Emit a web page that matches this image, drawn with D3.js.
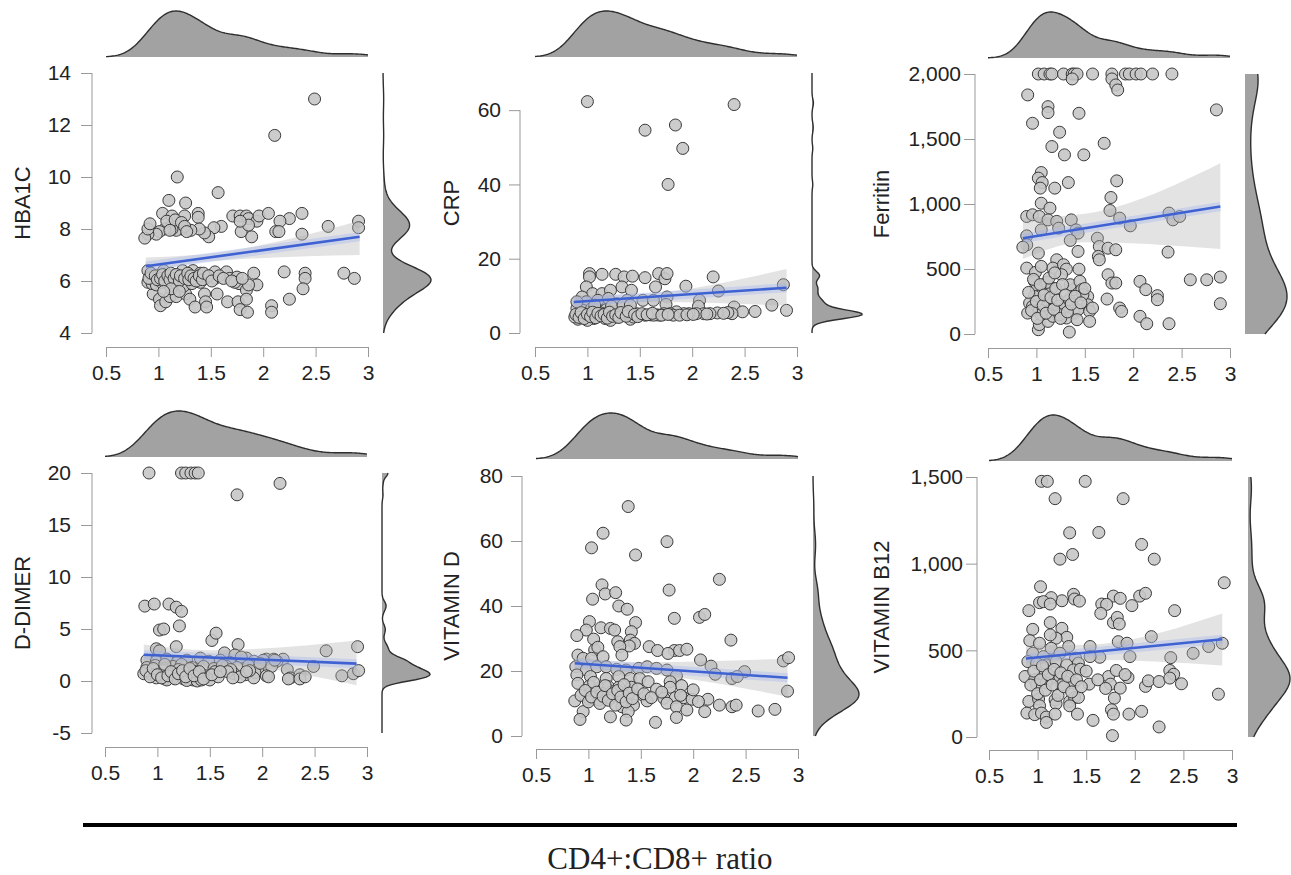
<!DOCTYPE html>
<html>
<head>
<meta charset="utf-8">
<script src="https://cdn.jsdelivr.net/npm/d3@7"></script>
<style>
  body { margin: 0; background: #fff; }
  svg text { font-family: "Liberation Sans", Arial, sans-serif; fill: #222; }
</style>
</head>
<body>
<svg id="chart" width="1291" height="875"></svg>
<script>
// ---- data ----
var xTicks = [0.5, 1, 1.5, 2, 2.5, 3];
var xDomain = [0.5, 3];
var yTitles = ['HBA1C', 'CRP', 'Ferritin', 'D-DIMER', 'VITAMIN D', 'VITAMIN B12'];
var yDomains = [[4, 14], [0, 70], [0, 2000], [-5, 20], [0, 80], [0, 1500]];
var yTicksHba1c = [4, 6, 8, 10, 12, 14];
var yTicksCrp = [0, 20, 40, 60];
var yTicksFerritin = [0, 500, 1000, 1500, 2000];
var yTicksDdimer = [-5, 0, 5, 10, 15, 20];
var yTicksVitD = [0, 20, 40, 60, 80];
var yTicksB12 = [0, 500, 1000, 1500];
var xLabel = 'CD4+:CD8+ ratio';

var hba1cPoints = [
  [2.49,13.0],[2.11,11.6],[1.18,10.0],[1.57,9.4],[1.10,9.1],[1.26,9.0],[1.04,8.6],[1.13,8.5],[1.25,8.5],[1.38,8.6],
  [1.38,8.45],[1.71,8.5],[1.78,8.5],[1.84,8.5],[1.86,8.4],[1.94,8.3],[1.96,8.5],[2.05,8.6],[2.37,8.6],[2.25,8.4],
  [2.16,8.3],[2.91,8.3],[2.91,8.05],[2.62,8.1],[2.37,7.8],[2.12,7.9],[2.15,7.9],[1.89,7.7],[1.79,7.9],[1.86,8.15],
  [1.78,8.3],[1.60,8.1],[1.53,8.05],[1.48,7.7],[1.44,7.85],[1.39,8.0],[1.31,7.95],[1.22,8.0],[1.17,7.95],[1.13,8.0],
  [1.10,8.05],[1.06,8.0],[1.01,7.9],[0.98,7.8],[0.90,7.8],[0.87,7.65],[0.90,8.0],[0.92,8.2],[1.08,8.3],[1.16,8.35],
  [1.22,8.25],[1.25,8.1],[1.11,7.95],[1.27,7.9],
  [0.90,6.4],[0.92,6.15],[0.90,5.95],[0.96,6.0],[1.00,6.2],[1.05,6.4],[1.08,6.1],[1.13,6.2],[1.14,6.0],[1.19,6.15],
  [1.23,6.4],[1.27,6.2],[1.30,6.0],[1.33,6.4],[1.37,6.15],[1.40,6.3],[1.45,6.1],[1.54,6.1],[1.54,6.35],[1.65,6.35],
  [1.68,6.1],[1.75,6.15],[1.77,5.9],[1.84,5.65],[1.91,6.3],[1.94,5.85],[2.20,6.35],[2.40,6.3],[2.40,6.1],[2.38,5.7],
  [2.77,6.3],[2.87,6.1],[0.95,5.5],[1.01,5.3],[1.02,5.05],[1.07,5.2],[1.11,5.4],[1.17,5.4],[1.26,5.5],[1.30,5.3],
  [1.35,5.0],[1.44,5.5],[1.45,5.2],[1.46,5.0],[1.56,5.5],[1.66,5.2],[1.76,5.2],[1.78,4.9],[1.84,5.3],[1.85,4.8],
  [2.08,5.05],[2.08,4.8],[2.25,5.3],[0.94,5.9],[0.98,5.85],[1.03,5.95],[1.09,5.9],[1.17,5.9],[1.24,5.8],[1.32,5.9],
  [1.40,5.95],[1.46,6.15],[1.73,5.95],[1.86,5.85],
  [0.91,6.1],[0.93,6.3],[0.97,6.2],[0.99,6.05],[1.02,6.1],[1.04,6.25],[1.06,6.0],[1.09,6.2],[1.11,6.05],[1.12,6.3],
  [1.15,6.1],[1.17,6.25],[1.20,6.0],[1.21,6.2],[1.25,6.1],[1.28,6.3],[1.29,6.05],[1.31,6.2],[1.34,6.1],[1.36,6.0],
  [1.39,6.2],[1.42,6.05],[1.43,6.3],[1.48,6.2],[1.51,6.0],[1.58,6.2],[1.62,6.1],[1.70,6.0],[1.80,6.1],[1.12,5.7],
  [1.20,5.6],[1.05,5.6]
];

var crpPoints = [
  [1.00,62.3],[2.40,61.5],[1.55,54.6],[1.84,56.0],[1.91,49.7],[1.77,40.0],
  [1.02,16.0],[1.02,15.1],[1.14,15.8],[1.27,15.8],[1.35,15.1],[1.43,15.3],[1.55,14.9],[1.68,16.0],[1.74,14.6],[1.76,16.0],
  [2.20,15.1],[1.94,12.6],[2.25,11.3],[2.87,13.0],[1.65,12.4],[1.33,12.4],[1.42,11.5],[0.99,12.4],[1.05,10.6],[1.14,10.6],
  [1.22,11.5],[0.95,9.7],[0.99,8.4],[1.10,8.8],[1.20,9.3],[1.28,7.9],[1.38,8.8],[1.53,8.8],[1.63,8.8],[1.76,9.7],
  [2.07,8.8],[1.75,7.7],[2.06,7.2],[2.40,7.0],[2.76,7.5],[2.90,6.1],[2.60,5.8],[2.48,5.7],[2.38,5.2],[2.34,5.5],
  [2.24,5.4],[2.17,5.2],[2.11,5.2],[2.04,5.2],[1.97,5.2],[1.92,5.2],[1.85,5.7],[1.79,5.2],[1.73,5.2],[1.66,4.9],
  [1.60,4.9],[1.55,4.8],[1.50,4.8],[1.41,3.7],[1.34,4.8],[1.28,5.4],[1.22,4.8],[1.17,3.9],[1.11,4.8],[1.06,3.9],
  [0.99,4.8],[0.91,3.7],[0.88,4.3],[0.90,6.6],[0.96,6.1],[1.04,6.6],[1.12,5.9],[1.18,6.3],[1.26,5.7],[1.33,6.6],
  [1.41,6.1],[1.47,5.2],[0.90,8.4],[1.07,7.5],[1.23,7.2],[1.34,7.5],[1.41,7.5],[1.28,4.3],[1.44,4.3],[0.93,5.2],
  [1.15,5.2],[1.82,4.8],[1.88,4.8],[1.69,4.8],[1.63,4.8],[1.07,5.2],[1.36,5.2],[1.00,3.4],[1.22,3.4],
  [0.89,5.0],[0.92,4.2],[0.94,5.5],[0.97,3.9],[1.00,5.0],[1.03,4.4],[1.05,5.6],[1.08,4.1],[1.10,5.3],[1.13,4.6],
  [1.16,5.0],[1.19,4.0],[1.21,5.6],[1.24,4.5],[1.27,4.9],[1.30,4.2],[1.32,5.5],[1.37,4.5],[1.39,5.8],[1.45,5.0],
  [1.48,4.4],[1.52,5.2],[1.57,4.9],[1.62,5.3],[1.71,4.8],[1.77,5.0],[1.95,4.9],[2.01,5.0],[2.14,5.1],[2.30,5.3]
];

var ferritinPoints = [
  [1.02,2000],[1.08,2000],[1.14,2000],[1.16,2000],[1.28,2000],[1.37,2000],[1.39,2000],[1.42,2000],[1.58,2000],[1.78,2000],
  [1.92,2000],[1.96,2000],[2.03,2000],[2.08,2000],[2.20,2000],[2.40,2000],[1.37,1962],[1.78,1962],[1.82,1916],[1.84,1877],
  [0.91,1839],[2.86,1724],[1.12,1749],[1.12,1703],[1.44,1698],[0.96,1621],[1.24,1552],[1.16,1442],[1.29,1378],[1.49,1378],
  [1.70,1467],[1.05,1242],[1.02,1199],[1.06,1165],[1.04,1122],[1.19,1122],[1.33,1165],[1.83,1178],[1.05,1006],[1.14,968],
  [1.77,1050],[1.76,950],[0.90,904],[0.96,917],[1.03,904],[1.12,878],[1.21,866],[1.36,878],[1.86,891],[1.97,832],
  [2.37,930],[2.41,878],[2.48,904],[1.05,801],[1.23,814],[1.41,801],[1.43,776],[0.90,755],[0.90,686],[0.86,668],
  [1.02,622],[1.35,720],[1.63,737],[1.65,673],[1.74,660],[1.82,648],[1.43,635],[2.36,630],[1.64,597],[1.65,571],
  [1.21,571],[1.17,507],[1.28,533],[1.31,499],[1.26,456],[0.90,507],[0.99,474],[1.44,499],[1.74,456],[1.78,392],
  [1.82,392],[2.07,405],[2.13,341],[2.25,295],[2.25,264],[2.59,417],[2.76,417],[2.90,438],[2.90,233],[1.73,269],
  [1.86,200],[1.88,174],[2.07,136],[2.14,79],[2.37,79],[1.34,15],[1.02,33],[1.03,72],[1.12,97],[0.98,405],
  [1.00,341],[1.05,302],[0.98,289],[0.93,238],[0.96,213],[1.03,187],[1.05,149],[1.14,187],[1.16,238],[1.16,353],
  [1.11,397],[1.23,213],[1.26,161],[1.29,200],[1.34,264],[1.38,341],[1.35,379],[1.39,161],[1.43,187],[1.45,405],
  [1.47,341],[1.53,289],[1.53,225],[1.55,174],[1.55,97],[1.48,302],[1.17,136],[1.31,123],[1.24,149],[1.10,264],
  [0.91,161],
  [0.92,320],[0.95,180],[0.97,420],[1.00,250],[1.01,120],[1.04,380],[1.07,220],[1.08,300],[1.10,160],[1.13,430],
  [1.15,280],[1.18,190],[1.20,350],[1.22,260],[1.25,120],[1.27,380],[1.30,300],[1.32,170],[1.36,230],[1.40,290],
  [1.42,110],[1.46,240],[1.50,350],[1.58,200],[1.05,520],[1.19,470]
];

var ddimerPoints = [
  [0.92,20],[1.23,20],[1.27,20],[1.32,20],[1.36,20],[1.39,20],[1.76,17.9],[2.17,19.0],
  [0.88,7.2],[0.97,7.4],[1.11,7.4],[1.18,7.1],[1.23,6.7],[1.21,5.3],[1.02,4.9],[1.06,5.0],[1.52,3.9],[1.56,4.6],
  [1.77,3.5],[1.18,3.3],[0.99,3.1],[1.02,2.9],[2.61,2.9],[2.91,3.3],[1.64,2.7],[1.74,2.5],[1.85,2.2],[2.04,2.1],
  [2.11,2.1],[2.20,2.1],
  [0.90,2.0],[0.99,1.9],[1.09,2.1],[1.19,1.8],[1.28,2.0],[1.41,2.2],[1.49,1.9],[1.60,2.0],[1.69,1.8],[1.80,2.3],
  [1.92,1.9],[2.01,2.0],[2.14,1.9],
  [0.90,1.3],[0.98,1.5],[1.07,1.2],[1.15,1.4],[1.23,1.6],[1.33,1.3],[1.44,1.4],[1.54,1.2],[1.66,1.4],[1.76,1.3],
  [1.87,1.5],[1.96,1.2],[2.09,1.4],[2.24,1.1],[2.49,1.4],
  [0.87,0.7],[0.95,0.6],[1.03,0.8],[1.12,0.7],[1.22,0.6],[1.30,0.8],[1.38,0.7],[1.46,0.5],[1.55,0.9],[1.73,0.7],
  [1.84,0.6],[1.93,0.8],[2.04,0.5],[2.27,0.3],[2.36,0.6],[2.76,0.5],[2.87,0.7],[2.92,1.0],
  [0.99,0.3],[1.07,0.2],[1.15,0.3],[1.25,0.2],[1.34,0.1],[1.41,0.2],[1.46,0.3],[1.50,0.1],[1.79,0.4],[1.92,0.3],
  [2.06,0.4],[2.25,0.2],[2.36,0.2],[2.41,0.4],
  [1.09,0.1],[1.28,0.05],[1.38,0.0],[1.42,0.1],[1.62,1.5],[1.70,1.1],[1.98,1.7],[2.12,2.0],[1.05,1.0],[1.20,1.1],
  [1.36,0.9],[1.58,0.4],[1.67,0.9],[1.88,1.0],
  [0.89,1.0],[0.93,0.4],[0.96,1.2],[1.00,0.6],[1.04,0.3],[1.07,1.6],[1.10,0.5],[1.13,0.9],[1.17,0.2],[1.20,0.7],
  [1.24,1.0],[1.27,0.4],[1.31,1.2],[1.35,0.5],[1.40,0.9],[1.44,0.2],[1.52,0.6],[1.60,0.9],[1.72,0.3],[1.85,0.9]
];

var vitDPoints = [
  [1.38,70.6],[1.14,62.4],[1.03,57.9],[1.75,59.8],[1.45,55.7],[2.25,48.2],[1.13,46.5],[1.16,43.7],[1.26,44.1],[1.04,42.1],
  [1.77,44.9],[1.29,40.0],[1.37,39.0],[1.82,36.2],[2.06,36.5],[2.11,37.4],[1.01,35.2],[1.45,34.9],[0.98,32.6],[1.12,33.3],
  [1.21,33.1],[1.25,32.6],[0.89,30.9],[1.05,29.8],[1.41,32.1],[1.40,29.5],[1.44,28.5],[1.39,27.7],[1.28,29.0],[1.30,27.5],
  [2.36,29.5],[1.58,27.5],[1.66,26.3],[1.82,26.3],[1.87,26.3],[1.94,26.7],[1.76,25.4],[1.06,26.5],[1.09,27.3],[1.32,24.9],
  [0.90,24.9],[0.95,23.9],[1.03,23.9],[1.14,24.4],[2.07,23.4],[2.86,23.1],[2.91,24.1],[2.17,21.5],[2.21,19.0],[2.49,19.8],
  [2.37,17.7],[2.42,18.3],[2.90,13.8],[0.88,21.3],[0.98,20.3],[1.08,21.3],[1.17,21.3],[1.27,20.5],[1.36,20.3],[1.48,20.8],
  [1.56,21.3],[1.65,20.8],[1.75,20.3],[1.84,18.5],[0.89,18.8],[0.90,16.2],[1.02,18.3],[1.17,17.7],[1.29,18.3],[1.40,17.7],
  [1.49,17.7],[1.57,16.7],[1.78,16.7],[1.89,15.5],[1.01,15.4],[1.10,14.7],[1.19,15.2],[1.29,15.0],[1.41,15.0],[1.65,14.4],
  [1.78,15.0],[1.02,13.1],[1.13,13.1],[1.22,13.6],[1.33,12.6],[1.52,12.6],[1.01,11.3],[1.10,11.1],[1.21,11.6],[1.32,11.1],
  [1.56,10.8],[1.72,11.6],[1.83,11.8],[1.91,11.8],[1.99,11.3],[2.14,11.3],[2.05,10.6],[0.87,10.8],[1.75,10.1],[1.32,9.0],
  [1.43,9.5],[1.84,9.0],[2.25,9.5],[2.37,9.0],[2.41,9.5],[1.94,8.0],[2.11,7.5],[2.62,7.7],[2.78,8.2],[1.38,7.5],
  [0.95,7.5],[1.21,5.9],[1.84,5.7],[0.92,5.1],[1.36,4.9],[1.64,4.2],
  [0.93,12.5],[0.97,14.0],[1.00,10.5],[1.03,12.0],[1.05,16.5],[1.08,13.5],[1.11,10.0],[1.14,12.2],[1.16,15.5],[1.19,11.0],
  [1.23,13.0],[1.26,9.5],[1.28,14.0],[1.31,12.0],[1.34,15.8],[1.36,10.5],[1.39,13.2],[1.42,11.5],[1.47,14.5],[1.53,13.0],
  [1.60,11.8],[1.70,13.5],[1.88,12.5],[2.00,14.2]
];

var b12Points = [
  [1.04,1475],[1.10,1475],[1.49,1475],[1.18,1375],[1.88,1375],[1.33,1178],[1.63,1180],[1.36,1053],[1.23,1026],[2.07,1111],
  [2.20,1026],[2.92,890],[1.03,867],[1.37,823],[1.38,796],[1.43,784],[1.25,786],[1.14,804],[1.02,775],[1.06,781],
  [1.13,767],[1.78,813],[1.85,800],[1.66,767],[1.71,765],[1.65,713],[2.05,813],[2.11,829],[1.97,758],[2.41,729],
  [0.91,729],[0.95,621],[0.92,556],[1.13,660],[1.25,627],[1.30,575],[1.19,570],[1.13,589],[1.78,660],[1.82,690],
  [1.84,652],[2.17,579],[1.83,550],[1.92,541],[1.54,522],[1.32,522],[1.02,541],[0.95,483],[1.06,464],[1.14,512],
  [1.23,483],[2.76,522],[2.90,541],[2.60,483],[2.37,458],[1.95,464],[1.64,460],[1.54,464],[1.39,455],[0.90,435],
  [0.99,426],[1.09,416],[1.19,435],[1.30,416],[1.42,426],[1.37,387],[1.44,391],[0.87,349],[0.97,330],[1.06,359],
  [1.14,340],[1.23,345],[1.28,320],[1.37,311],[0.99,301],[1.09,311],[1.25,301],[1.53,305],[1.73,349],[1.81,384],
  [1.75,305],[1.85,282],[1.93,343],[2.11,292],[2.14,324],[2.25,320],[2.36,384],[2.40,362],[2.36,340],[2.48,307],
  [2.86,247],[0.91,205],[1.01,219],[1.02,180],[1.18,215],[1.19,192],[1.33,205],[1.38,228],[1.42,228],[1.33,180],
  [1.79,224],[0.89,138],[0.97,129],[1.04,138],[1.09,115],[1.18,132],[1.09,84],[1.41,132],[1.57,96],[1.76,157],
  [1.78,132],[1.94,132],[2.07,148],[2.25,58],[1.77,8],
  [0.93,300],[0.96,380],[1.00,250],[1.03,330],[1.05,410],[1.08,270],[1.11,360],[1.15,300],[1.17,390],[1.21,240],
  [1.24,370],[1.27,290],[1.31,350],[1.35,260],[1.40,330],[1.45,290],[1.50,380],[1.62,330],[1.70,280],[1.90,360]
];

// fitted line with 95% band as drawn: [x, lower, fit, upper]
var hba1cFit = [[0.88, 6.25, 6.57, 6.90], [1.45, 6.74, 6.89, 7.04], [2.92, 7.00, 7.70, 8.32]];
var crpFit = [[0.87, 6.6, 8.35, 10.1], [1.42, 8.4, 9.4, 10.4], [2.90, 7.4, 12.2, 17.2]];
var ferritinFit = [[0.86, 576, 737, 891], [1.50, 705, 813, 925], [2.90, 653, 981, 1314]];
var ddimerFit = [[0.87, 1.5, 2.53, 3.5], [1.50, 1.55, 2.26, 2.95], [2.90, -0.4, 1.67, 3.9]];
var vitDFit = [[0.87, 20.4, 22.4, 24.2], [1.50, 19.3, 21.0, 22.7], [2.90, 12.1, 17.9, 23.8]];
var b12Fit = [[0.88, 405, 453, 527], [1.50, 445, 487, 532], [2.90, 413, 564, 713]];

var allPoints = [hba1cPoints, crpPoints, ferritinPoints, ddimerPoints, vitDPoints, b12Points];
var allFits = [hba1cFit, crpFit, ferritinFit, ddimerFit, vitDFit, b12Fit];
var allYTicks = [yTicksHba1c, yTicksCrp, yTicksFerritin, yTicksDdimer, yTicksVitD, yTicksB12];

// ---- layout (pixels) ----
var layout = [
  {xL: 106, xR: 368, yT: 73, yB: 333, axisX: 92, xAxisY: 347, topBase: 57, rightX: 383, rightW: 48, gap: 10, titleX: 22},
  {xL: 535, xR: 797, yT: 73, yB: 333, axisX: 520, xAxisY: 347, topBase: 57, rightX: 812, rightW: 50, gap: 8, titleX: 451},
  {xL: 988, xR: 1230, yT: 74, yB: 334, axisX: 975, xAxisY: 348, topBase: 58, rightX: 1245, rightW: 42, gap: 3, titleX: 881},
  {xL: 105, xR: 367, yT: 473, yB: 733, axisX: 92, xAxisY: 747, topBase: 457, rightX: 382, rightW: 48, gap: 10, titleX: 22},
  {xL: 536, xR: 798, yT: 476, yB: 736, axisX: 522, xAxisY: 749, topBase: 459, rightX: 813, rightW: 46, gap: 8, titleX: 451},
  {xL: 989, xR: 1232, yT: 477, yB: 737, axisX: 977, xAxisY: 750, topBase: 461, rightX: 1248, rightW: 42, gap: 3, titleX: 881}
];

var svg = d3.select('#chart');

function bandwidth(v) {
    var s = v.slice().sort(d3.ascending);
    var sd = d3.deviation(s);
    var iqr = d3.quantile(s, 0.75) - d3.quantile(s, 0.25);
    var lo = Math.min(sd, iqr / 1.34) || sd;
    return 0.9 * lo * Math.pow(v.length, -0.2);
}

function kde(v, lo, hi) {
    var bw = bandwidth(v);
    return d3.range(0, 201).map(function (i) {
        var g = lo + (hi - lo) * i / 200;
        var d = d3.mean(v, function (x) {
            var u = (g - x) / bw;
            return Math.exp(-0.5 * u * u);
        });
        return [g, d];
    });
}

function tickText(d) {
    if (d < 0) return '-' + Math.abs(d);
    return d3.format(',')(d);
}

allPoints.forEach(function (pts, i) {
    var L = layout[i];
    var g = svg.append('g');
    var x = d3.scaleLinear().domain(xDomain).range([L.xL, L.xR]);
    var y = d3.scaleLinear().domain(yDomains[i]).range([L.yB, L.yT]);
    var ticks = allYTicks[i];

    // y axis
    var ya = g.append('g').attr('transform', 'translate(' + L.axisX + ',0)')
        .call(d3.axisLeft(y).tickValues(ticks).tickFormat(tickText).tickSize(11).tickSizeOuter(0).tickPadding(L.gap));
    ya.select('.domain').remove();
    ya.append('line').attr('x1', 0).attr('x2', 0)
        .attr('y1', y(ticks[0])).attr('y2', y(ticks[ticks.length - 1]));
    ya.selectAll('line').attr('stroke', '#999');
    ya.selectAll('text').attr('font-size', 21).attr('fill', '#222')
        .attr('font-family', '"Liberation Sans", Arial, sans-serif');

    // x axis
    var xa = g.append('g').attr('transform', 'translate(0,' + L.xAxisY + ')')
        .call(d3.axisBottom(x).tickValues(xTicks).tickFormat(String).tickSize(10).tickSizeOuter(0).tickPadding(8));
    xa.select('.domain').attr('stroke', '#999');
    xa.selectAll('line').attr('stroke', '#999');
    xa.selectAll('text').attr('font-size', 21).attr('fill', '#222')
        .attr('font-family', '"Liberation Sans", Arial, sans-serif');

    // y title
    g.append('text')
        .attr('transform', 'translate(' + L.titleX + ',' + ((L.yT + L.yB) / 2) + ') rotate(-90)')
        .attr('text-anchor', 'middle').attr('dy', '0.36em')
        .attr('font-size', 22)
        .text(yTitles[i]);

    // points
    g.append('g').selectAll('circle').data(pts).enter().append('circle')
        .attr('cx', function (d) { return x(d[0]); })
        .attr('cy', function (d) { return y(d[1]); })
        .attr('r', 6)
        .attr('fill', '#c6c6c6')
        .attr('fill-opacity', 0.9)
        .attr('stroke', '#3a3a3a')
        .attr('stroke-width', 1);

    // linear fit with 95% confidence band
    var fit = allFits[i];
    g.append('path').datum(fit)
        .attr('d', d3.area().curve(d3.curveMonotoneX).x(function (d) { return x(d[0]); })
            .y0(function (d) { return y(d[1]); }).y1(function (d) { return y(d[3]); }))
        .attr('fill', '#b0b0b0').attr('fill-opacity', 0.35);
    var line = d3.line().x(function (d) { return x(d[0]); }).y(function (d) { return y(d[2]); });
    var ends = [fit[0], fit[fit.length - 1]];
    g.append('path').datum(ends).attr('d', line)
        .attr('fill', 'none').attr('stroke', '#9fb3ee').attr('stroke-opacity', 0.35).attr('stroke-width', 9);
    g.append('path').datum(ends).attr('d', line)
        .attr('fill', 'none').attr('stroke', '#3f62d3').attr('stroke-width', 2.6);

    // top marginal density (x)
    var dx = kde(pts.map(function (d) { return d[0]; }), xDomain[0], xDomain[1]);
    var mxd = d3.max(dx, function (d) { return d[1]; });
    var hx = function (d) { return L.topBase - d[1] / mxd * 46; };
    g.append('path').datum(dx)
        .attr('d', d3.area().x(function (d) { return x(d[0]); }).y0(L.topBase).y1(hx))
        .attr('fill', '#a2a2a2');
    g.append('path').datum(dx)
        .attr('d', d3.line().x(function (d) { return x(d[0]); }).y(hx))
        .attr('fill', 'none').attr('stroke', '#2e2e2e').attr('stroke-width', 1.4);

    // right marginal density (y)
    var yd = yDomains[i];
    var dy = kde(pts.map(function (d) { return d[1]; }), yd[0], yd[1]);
    var myd = d3.max(dy, function (d) { return d[1]; });
    var wy = function (d) { return L.rightX + d[1] / myd * L.rightW; };
    g.append('path').datum(dy)
        .attr('d', d3.area().y(function (d) { return y(d[0]); }).x0(L.rightX).x1(wy))
        .attr('fill', '#a2a2a2');
    g.append('path').datum(dy)
        .attr('d', d3.line().y(function (d) { return y(d[0]); }).x(wy))
        .attr('fill', 'none').attr('stroke', '#2e2e2e').attr('stroke-width', 1.4);
});

// shared x label under a rule
svg.append('line').attr('x1', 83).attr('x2', 1237).attr('y1', 825).attr('y2', 825)
    .attr('stroke', '#000').attr('stroke-width', 4);
svg.append('text').attr('x', 660).attr('y', 869)
    .attr('text-anchor', 'middle')
    .attr('font-size', 31)
    .style('font-family', '"Liberation Serif", "Times New Roman", serif')
    .text(xLabel);
</script>
</body>
</html>
